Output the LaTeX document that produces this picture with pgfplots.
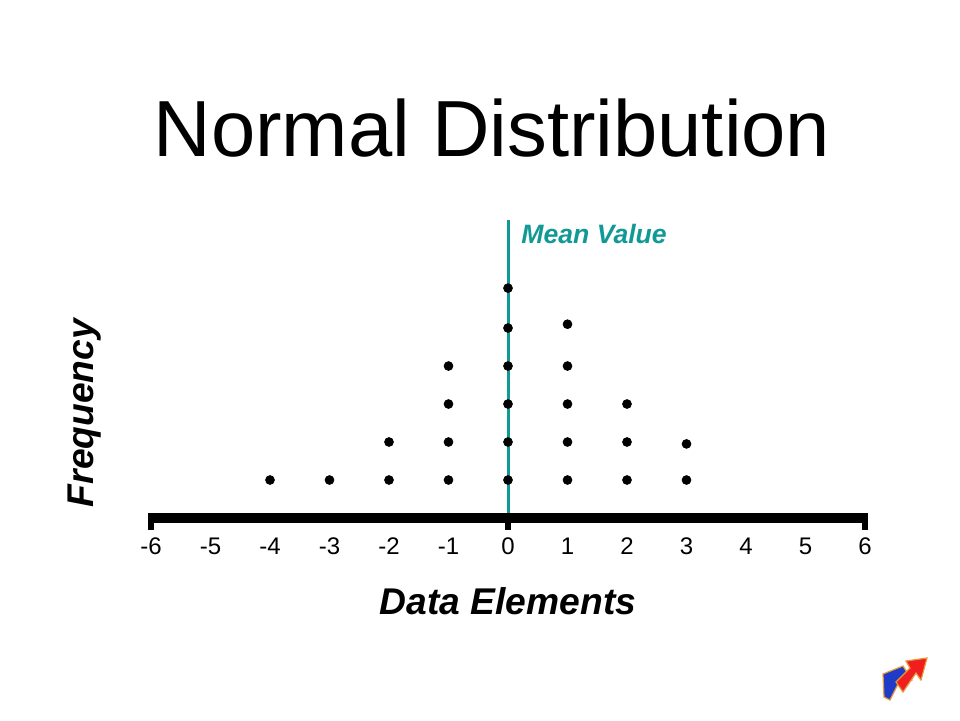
\documentclass[border=0pt]{standalone}
\usepackage{pgfplots}
\pgfplotsset{compat=1.18}
\usepackage{fontspec}
\setmainfont{Liberation Sans}
\definecolor{teal1}{RGB}{17,153,150}
\definecolor{logoblue}{RGB}{30,60,200}
\definecolor{logored}{RGB}{240,30,30}
\definecolor{logoor}{RGB}{230,150,60}
\begin{document}
\begin{tikzpicture}[x=0.5pt,y=-0.5pt]
\path[use as bounding box] (0,0) rectangle (960,720);
\begin{axis}[
  at={(75.5pt,-259pt)}, anchor=south west,
  scale only axis, width=357pt, height=152pt,
  xmin=-6, xmax=6, ymin=0, ymax=8,
  clip=false,
  axis line style={draw=none},
  ymajorticks=false,
  xtick pos=bottom,
  xtick={-6,-5,-4,-3,-2,-1,0,1,2,3,4,5,6},
  xticklabels={-6,-5,-4,-3,-2,-1,0,1,2,3,4,5,6},
  major tick length=0pt,
  xticklabel style={anchor=base, yshift=-18pt, font=\fontsize{12pt}{14pt}\selectfont},
  extra x ticks={-6,0,6},
  extra x tick labels={},
  extra x tick style={xtick pos=bottom, major tick length=6pt, tick align=outside, tick style={line width=3pt, black}},
]
\addplot[only marks, mark=*, mark size=2.2pt, black] coordinates {
  (-4,1) (-3,1)
  (-2,1) (-2,2)
  (-1,1) (-1,2) (-1,3) (-1,4)
  (0,1) (0,2) (0,3) (0,4) (0,5) (0,6.05)
  (1,1) (1,2) (1,3) (1,4) (1,5.1)
  (2,1) (2,2) (2,3)
  (3,1) (3,1.95)
};
\addplot[teal1, line width=1.5pt] coordinates {(0,0) (0,7.84)};
\addplot[black, line width=5pt] coordinates {(-6.05,0) (6.05,0)};
\end{axis}
\node at (492,128.5) {\fontsize{39.8pt}{44pt}\selectfont Normal Distribution};
\node[anchor=west, text=teal1, inner sep=0pt] at (521,234) {\fontsize{13.3pt}{15pt}\selectfont\bfseries\itshape Mean Value};
\node[rotate=90] at (85,413) {\fontsize{18.6pt}{22pt}\selectfont\bfseries\itshape Frequency};
\node at (508,601) {\fontsize{18.6pt}{22pt}\selectfont\bfseries\itshape Data Elements};
% logo
\filldraw[fill=logoblue, draw=logoor, line width=0.6pt] (883,674) -- (903,666) -- (912,680) -- (898,684) -- (890,700) -- (884,697) -- cycle;
\filldraw[fill=logored, draw=logoor, line width=0.6pt] (896,682) -- (910,668) -- (906,661) -- (927,658) -- (921,680) -- (916,673) -- (903,692) -- cycle;
\end{tikzpicture}
\end{document}
